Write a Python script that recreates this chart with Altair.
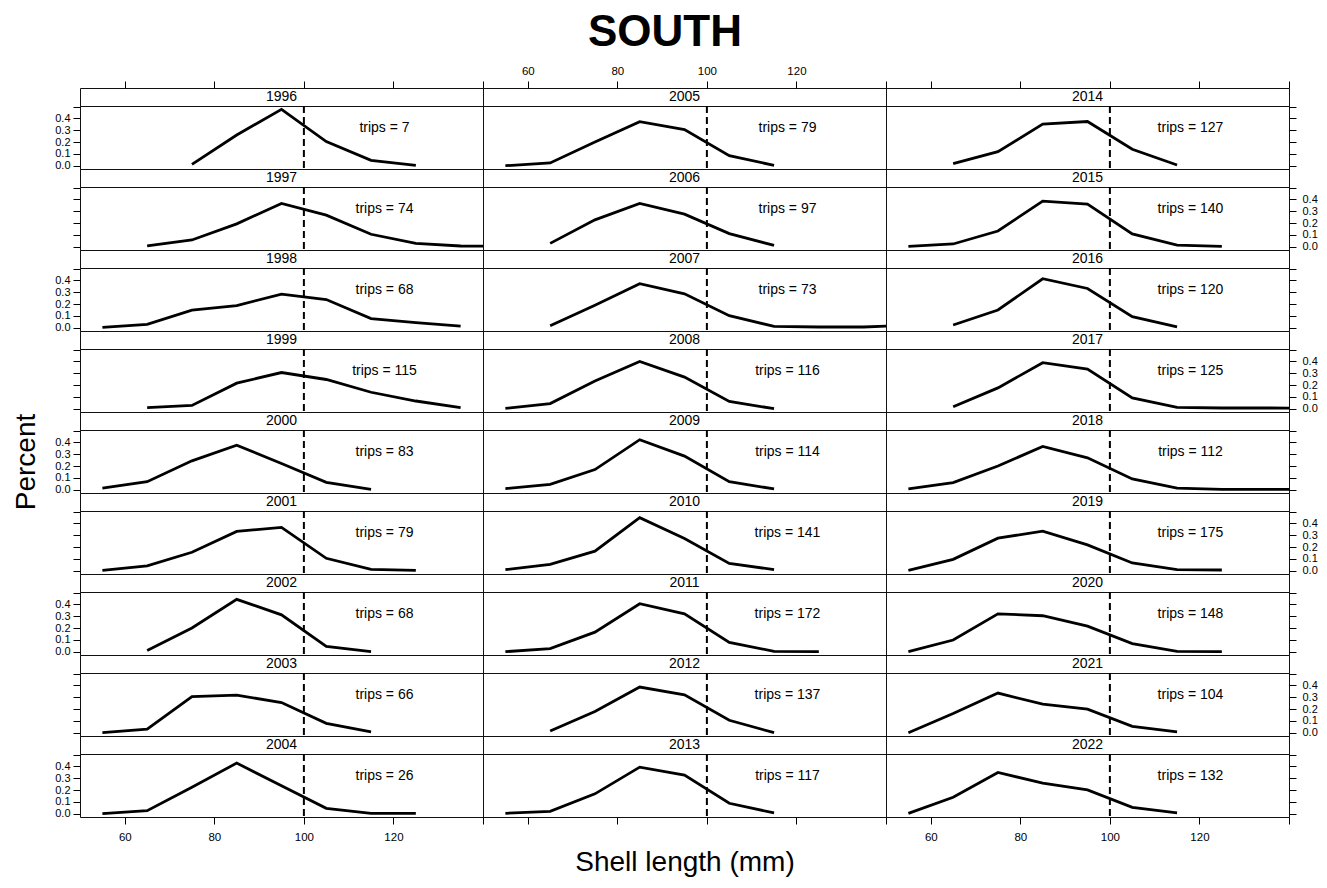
import altair as alt
import pandas as pd

YEARS = list(range(1996, 2023))
TRIPS = [7, 74, 68, 115, 83, 79, 68, 66, 26,
         79, 97, 73, 116, 114, 141, 172, 137, 117,
         127, 140, 120, 125, 112, 175, 148, 104, 132]
BINS = [55, 65, 75, 85, 95, 105, 115, 125, 135, 145]
N = None
pct_1996 = [N, N, 0.011, 0.260, 0.477, 0.204, 0.045, 0.003, N, N]
pct_1997 = [N, 0.006, 0.057, 0.193, 0.366, 0.267, 0.105, 0.028, 0.006, 0.003]
pct_1998 = [0.003, 0.028, 0.148, 0.187, 0.284, 0.238, 0.077, 0.043, 0.014, N]
pct_1999 = [N, 0.009, 0.028, 0.216, 0.306, 0.247, 0.139, 0.065, 0.009, N]
pct_2000 = [0.014, 0.068, 0.244, 0.377, 0.222, 0.062, 0.003, N, N, N]
pct_2001 = [0.003, 0.040, 0.156, 0.332, 0.366, 0.105, 0.011, 0.003, N, N]
pct_2002 = [N, 0.011, 0.200, 0.443, 0.312, 0.045, 0.000, N, N, N]
pct_2003 = [0.000, 0.031, 0.306, 0.318, 0.255, 0.079, 0.006, N, N, N]
pct_2004 = [0.000, 0.026, 0.224, 0.428, 0.237, 0.045, 0.003, 0.003, N, N]
pct_2005 = [0.000, 0.023, 0.200, 0.372, 0.306, 0.085, 0.003, N, N, N]
pct_2006 = [N, 0.028, 0.227, 0.366, 0.275, 0.111, 0.011, N, N, N]
pct_2007 = [N, 0.017, 0.190, 0.372, 0.287, 0.102, 0.011, 0.006, 0.006, 0.020]
pct_2008 = [0.003, 0.043, 0.235, 0.400, 0.267, 0.062, 0.000, N, N, N]
pct_2009 = [0.009, 0.045, 0.170, 0.423, 0.284, 0.068, 0.006, N, N, N]
pct_2010 = [0.009, 0.054, 0.165, 0.448, 0.272, 0.062, 0.009, N, N, N]
pct_2011 = [0.000, 0.026, 0.165, 0.406, 0.320, 0.079, 0.003, 0.000, N, N]
pct_2012 = [N, 0.014, 0.179, 0.386, 0.320, 0.105, 0.000, N, N, N]
pct_2013 = [0.003, 0.020, 0.168, 0.394, 0.326, 0.088, 0.006, N, N, N]
pct_2014 = [N, 0.017, 0.119, 0.352, 0.374, 0.139, 0.006, N, N, N]
pct_2015 = [0.003, 0.023, 0.133, 0.386, 0.360, 0.108, 0.014, 0.003, N, N]
pct_2016 = [N, 0.023, 0.150, 0.414, 0.332, 0.094, 0.006, N, N, N]
pct_2017 = [N, 0.017, 0.176, 0.389, 0.335, 0.091, 0.011, 0.006, 0.006, 0.004]
pct_2018 = [0.006, 0.060, 0.200, 0.366, 0.270, 0.091, 0.014, 0.003, 0.003, 0.003]
pct_2019 = [0.003, 0.096, 0.275, 0.335, 0.218, 0.065, 0.009, 0.006, N, N]
pct_2020 = [0.000, 0.099, 0.320, 0.304, 0.216, 0.068, 0.003, 0.000, N, N]
pct_2021 = [0.000, 0.162, 0.335, 0.241, 0.199, 0.054, 0.006, N, N, N]
pct_2022 = [0.003, 0.139, 0.349, 0.258, 0.201, 0.054, 0.006, N, N, N]

PCT = [pct_1996, pct_1997, pct_1998, pct_1999, pct_2000, pct_2001, pct_2002,
       pct_2003, pct_2004, pct_2005, pct_2006, pct_2007, pct_2008, pct_2009,
       pct_2010, pct_2011, pct_2012, pct_2013, pct_2014, pct_2015, pct_2016,
       pct_2017, pct_2018, pct_2019, pct_2020, pct_2021, pct_2022]

XT = [60, 80, 100, 120, 140]
YT = [0, 0.1, 0.2, 0.3, 0.4, 0.5]
XDOM = [50, 140]
YDOM = [-0.028, 0.505]
VLINE = 100
W, HS, HP = 403, 18, 63
FONT = "Liberation Sans"
NROW, NCOL = 9, 3


def xscale():
    return alt.Scale(domain=XDOM, nice=False, zero=False)


def yscale():
    return alt.Scale(domain=YDOM, nice=False, zero=False)


def xaxis(orient, labels, title=None):
    return alt.Axis(orient=orient, values=XT, labels=labels,
                    labelExpr="datum.value >= 140 ? '' : datum.label",
                    domain=False, ticks=True, tickSize=7, tickColor="black",
                    tickWidth=1, grid=False, labelFont=FONT, labelFontSize=11.5,
                    labelColor="black",
                    labelPadding=5 if orient == "top" else 7,
                    labelOverlap=False,
                    labelFlush=False, title=title, titleFont=FONT,
                    titleFontSize=28, titleFontWeight="normal",
                    titleColor="black", titlePadding=24)


def yaxis(orient, labels, title=None):
    return alt.Axis(orient=orient, values=YT, labels=labels, format=".1f",
                    labelExpr="datum.value > 0.45 ? '' : datum.label",
                    domain=False, ticks=True, tickSize=7, tickColor="black",
                    tickWidth=1, grid=False, labelFont=FONT, labelFontSize=11,
                    labelColor="black",
                    labelPadding=3 if orient == "left" else 6,
                    labelOverlap=False, labelFlush=False, title=title,
                    titleFont=FONT, titleFontSize=28, titleFontWeight="normal",
                    titleColor="black", titlePadding=14)


def strip(i, r, c):
    ax = xaxis("top", labels=(c == 1)) if r == 0 else None
    df = pd.DataFrame({"year": [str(YEARS[i])]})
    return alt.Chart(df).mark_text(font=FONT, fontSize=14, color="black",
                                   baseline="middle").encode(
        x=alt.X(datum=(XDOM[0] + XDOM[1]) / 2, scale=xscale(), axis=ax),
        y=alt.value(HS / 2),
        text="year:N",
    ).properties(width=W, height=HS)


def panel(i, r, c):
    rows = [{"len": b, "pct": v} for b, v in zip(BINS, PCT[i]) if v is not None]
    df = pd.DataFrame(rows)
    one = pd.DataFrame({"label": [f"trips = {TRIPS[i]}"]})
    if r == NROW - 1:
        xa = xaxis("bottom", labels=(c != 1),
                   title=("Shell length (mm)" if c == 1 else None))
    else:
        xa = None
    if c == 0:
        ya = yaxis("left", labels=(r % 2 == 0),
                   title=("Percent" if r == 4 else None))
    elif c == 2:
        ya = yaxis("right", labels=(r % 2 == 1))
    else:
        ya = None
    line = alt.Chart(df).mark_line(color="black", strokeWidth=2.8,
                                   clip=True).encode(
        x=alt.X("len:Q", scale=xscale(), axis=xa),
        y=alt.Y("pct:Q", scale=yscale(), axis=ya),
    )
    rule = alt.Chart(one).mark_rule(color="black", strokeWidth=2,
                                    strokeDash=[7, 4]).encode(
        x=alt.X(datum=VLINE, scale=xscale(), axis=xa),
    )
    text = alt.Chart(one).mark_text(font=FONT, fontSize=14, color="black",
                                    baseline="middle").encode(
        x=alt.X(datum=118, scale=xscale(), axis=xa),
        y=alt.Y(datum=0.32, scale=yscale(), axis=ya),
        text="label:N",
    )
    return alt.layer(line, rule, text).properties(width=W, height=HP)


cells = []
for r in range(NROW):
    for c in range(NCOL):
        cells.append(strip(c * NROW + r, r, c))
    for c in range(NCOL):
        cells.append(panel(c * NROW + r, r, c))

chart = alt.concat(*cells, columns=NCOL, spacing=0, bounds="flush",
                   align="each").properties(
    title=alt.TitleParams(text="SOUTH", font=FONT, fontSize=44,
                          fontWeight="bold", color="black", anchor="middle",
                          offset=10),
    padding={"left": 4, "top": 2, "right": 0, "bottom": 0},
    background="white",
).configure_view(stroke="#111111", strokeWidth=1)

chart.save("out.html", embed_options={"renderer": "svg", "actions": False})
